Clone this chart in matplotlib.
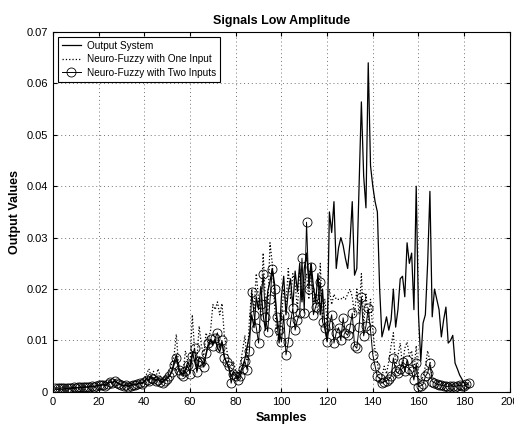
import numpy as np
import matplotlib.pyplot as plt

plt.rcParams['font.family'] = ['Liberation Sans', 'DejaVu Sans']

samples = np.arange(1, 183)

output_system = [
    0.0006, 0.0005, 0.0006, 0.0005, 0.0006, 0.0007, 0.0006, 0.0007, 0.0007, 0.0008,
    0.0008, 0.0009, 0.0008, 0.0010, 0.0009, 0.0010, 0.0011, 0.0010, 0.0012, 0.0013,
    0.0012, 0.0015, 0.0013, 0.0017, 0.0020, 0.0018, 0.0022, 0.0019, 0.0016, 0.0014,
    0.0012, 0.0014, 0.0011, 0.0013, 0.0015, 0.0014, 0.0016, 0.0018, 0.0017, 0.0021,
    0.0026, 0.0024, 0.0030, 0.0027, 0.0023, 0.0026, 0.0021, 0.0020, 0.0024, 0.0028,
    0.0032, 0.0040, 0.0058, 0.0072, 0.0048, 0.0038, 0.0034, 0.0044, 0.0058, 0.0048,
    0.0078, 0.0060, 0.0042, 0.0068, 0.0062, 0.0054, 0.0072, 0.0090, 0.0100, 0.0094,
    0.0102, 0.0086, 0.0078, 0.0096, 0.0070, 0.0056, 0.0046, 0.0030, 0.0040, 0.0034,
    0.0026, 0.0038, 0.0050, 0.0064, 0.0088, 0.0110, 0.0150, 0.0125, 0.0185, 0.0160,
    0.0205, 0.0150, 0.0120, 0.0195, 0.0215, 0.0240, 0.0210, 0.0140, 0.0095, 0.0185,
    0.0225, 0.0150, 0.0195, 0.0220, 0.0165, 0.0235, 0.0195, 0.0250, 0.0175, 0.0240,
    0.0270, 0.0215, 0.0250, 0.0205, 0.0175, 0.0230, 0.0150, 0.0200, 0.0125, 0.0100,
    0.0350, 0.0310, 0.0370, 0.0240, 0.0280, 0.0300, 0.0285, 0.0260, 0.0240, 0.0290,
    0.0370, 0.0227, 0.0240, 0.0400, 0.0564, 0.0420, 0.0358, 0.0640, 0.0440, 0.0400,
    0.0370, 0.0350, 0.0200, 0.0107, 0.0125, 0.0146, 0.0120, 0.0140, 0.0200, 0.0126,
    0.0160, 0.0220, 0.0225, 0.0185, 0.0290, 0.0250, 0.0270, 0.0160, 0.0400, 0.0150,
    0.0060, 0.0134, 0.0150, 0.0250, 0.0390, 0.0146, 0.0200, 0.0180, 0.0160, 0.0107,
    0.0140, 0.0165, 0.0095, 0.0100, 0.0110, 0.0056, 0.0045, 0.0033, 0.0025, 0.0017,
    0.0010, 0.0008,
]

nf_one_input = [
    0.0005, 0.0004, 0.0005, 0.0004, 0.0005, 0.0006, 0.0005, 0.0006, 0.0006, 0.0007,
    0.0007, 0.0008, 0.0007, 0.0009, 0.0008, 0.0009, 0.0010, 0.0009, 0.0011, 0.0012,
    0.0012, 0.0014, 0.0012, 0.0016, 0.0020, 0.0017, 0.0023, 0.0019, 0.0015, 0.0013,
    0.0011, 0.0014, 0.0011, 0.0013, 0.0016, 0.0014, 0.0017, 0.0019, 0.0018, 0.0022,
    0.0035, 0.0045, 0.0030, 0.0040, 0.0028, 0.0045, 0.0030, 0.0025, 0.0032, 0.0030,
    0.0040, 0.0055, 0.0070, 0.0112, 0.0050, 0.0045, 0.0040, 0.0080, 0.0060, 0.0050,
    0.0150, 0.0080, 0.0060, 0.0128, 0.0090, 0.0070, 0.0115, 0.0100, 0.0120, 0.0170,
    0.0160, 0.0175, 0.0150, 0.0172, 0.0110, 0.0085, 0.0055, 0.0040, 0.0060, 0.0040,
    0.0030, 0.0055, 0.0080, 0.0110, 0.0060, 0.0140, 0.0200, 0.0160, 0.0230, 0.0180,
    0.0150, 0.0270, 0.0175, 0.0150, 0.0290, 0.0250, 0.0170, 0.0110, 0.0100, 0.0140,
    0.0200, 0.0170, 0.0240, 0.0180, 0.0230, 0.0210, 0.0160, 0.0240, 0.0180, 0.0210,
    0.0230, 0.0180, 0.0250, 0.0170, 0.0190, 0.0150, 0.0250, 0.0140, 0.0180, 0.0140,
    0.0200, 0.0170, 0.0190, 0.0180, 0.0180, 0.0180, 0.0185, 0.0180, 0.0190, 0.0200,
    0.0185, 0.0150, 0.0200, 0.0150, 0.0230, 0.0130, 0.0190, 0.0140, 0.0180, 0.0120,
    0.0080, 0.0060, 0.0020, 0.0030, 0.0050, 0.0035, 0.0060, 0.0090, 0.0115, 0.0050,
    0.0070, 0.0095, 0.0050, 0.0085, 0.0097, 0.0070, 0.0080, 0.0040, 0.0090, 0.0030,
    0.0020, 0.0030, 0.0050, 0.0080, 0.0060, 0.0030, 0.0025, 0.0020, 0.0018, 0.0016,
    0.0015, 0.0014, 0.0013, 0.0014, 0.0012, 0.0013, 0.0012, 0.0014, 0.0013, 0.0012,
    0.0013, 0.0015,
]

nf_two_inputs = [
    0.0008, 0.0008, 0.0007, 0.0008, 0.0008, 0.0007, 0.0008, 0.0008, 0.0009, 0.0008,
    0.0009, 0.0009, 0.0010, 0.0009, 0.0010, 0.0010, 0.0011, 0.0010, 0.0012, 0.0013,
    0.0013, 0.0014, 0.0012, 0.0016, 0.0019, 0.0017, 0.0021, 0.0018, 0.0015, 0.0013,
    0.0011, 0.0013, 0.0010, 0.0012, 0.0014, 0.0013, 0.0015, 0.0017, 0.0016, 0.0019,
    0.0024, 0.0022, 0.0027, 0.0025, 0.0021, 0.0024, 0.0019, 0.0018, 0.0022, 0.0025,
    0.0030, 0.0038, 0.0052, 0.0065, 0.0042, 0.0034, 0.0030, 0.0040, 0.0052, 0.0035,
    0.0070, 0.0085, 0.0038, 0.0060, 0.0058, 0.0048, 0.0075, 0.0095, 0.0102, 0.0090,
    0.0105, 0.0115, 0.0085, 0.0100, 0.0065, 0.0058, 0.0050, 0.0017, 0.0035, 0.0030,
    0.0024, 0.0030, 0.0045, 0.0060, 0.0043, 0.0080, 0.0195, 0.0150, 0.0125, 0.0095,
    0.0170, 0.0230, 0.0146, 0.0117, 0.0180, 0.0240, 0.0200, 0.0146, 0.0120, 0.0097,
    0.0150, 0.0072, 0.0097, 0.0135, 0.0163, 0.0120, 0.0140, 0.0153, 0.0260, 0.0153,
    0.0330, 0.0200, 0.0243, 0.0150, 0.0166, 0.0180, 0.0214, 0.0136, 0.0124, 0.0097,
    0.0130, 0.0150, 0.0095, 0.0115, 0.0125, 0.0100, 0.0144, 0.0115, 0.0110, 0.0125,
    0.0153, 0.0090, 0.0085, 0.0127, 0.0185, 0.0109, 0.0128, 0.0163, 0.0120, 0.0072,
    0.0050, 0.0030, 0.0027, 0.0017, 0.0020, 0.0022, 0.0025, 0.0030, 0.0066, 0.0040,
    0.0037, 0.0045, 0.0058, 0.0040, 0.0062, 0.0045, 0.0040, 0.0023, 0.0056, 0.0010,
    0.0012, 0.0015, 0.0030, 0.0037, 0.0056, 0.0020, 0.0018, 0.0015, 0.0014, 0.0013,
    0.0012, 0.0011, 0.0010, 0.0012, 0.0011, 0.0010, 0.0012, 0.0013, 0.0011, 0.0012,
    0.0015, 0.0018,
]

fig = plt.figure(figsize=(5.14, 4.26), dpi=100)
ax = fig.add_axes([0.103, 0.080, 0.889, 0.845])

ax.plot(samples, output_system, 'k-', lw=0.9, label='Output System')
ax.plot(samples, nf_one_input, 'k:', lw=0.9, label='Neuro-Fuzzy with One Input')
ax.plot(samples, nf_two_inputs, 'k-', lw=0.7, marker='o', ms=6.5, mfc='none',
        mec='k', mew=0.6, label='Neuro-Fuzzy with Two Inputs')

ax.set_xlim(0, 200)
ax.set_ylim(0, 0.07)
ax.set_xticks(np.arange(0, 201, 20))
ax.set_yticks(np.arange(0, 0.071, 0.01))
ax.set_yticklabels(['0', '0.01', '0.02', '0.03', '0.04', '0.05', '0.06', '0.07'])
ax.tick_params(direction='in', top=True, right=True, labelsize=8, length=3)
ax.grid(True, ls=(0, (1, 3)), color='0.45', lw=0.7)

ax.set_title('Signals Low Amplitude', fontsize=9, fontweight='bold', pad=6)
ax.set_xlabel('Samples', fontsize=9, fontweight='bold')
ax.set_ylabel('Output Values', fontsize=9, fontweight='bold')

leg = ax.legend(loc='upper left', fontsize=7.2, fancybox=False, edgecolor='k',
                framealpha=1, borderpad=0.4, labelspacing=0.35, handlelength=1.9,
                handletextpad=0.6)
leg.get_frame().set_linewidth(0.8)

fig.savefig('out.png', dpi=100)
